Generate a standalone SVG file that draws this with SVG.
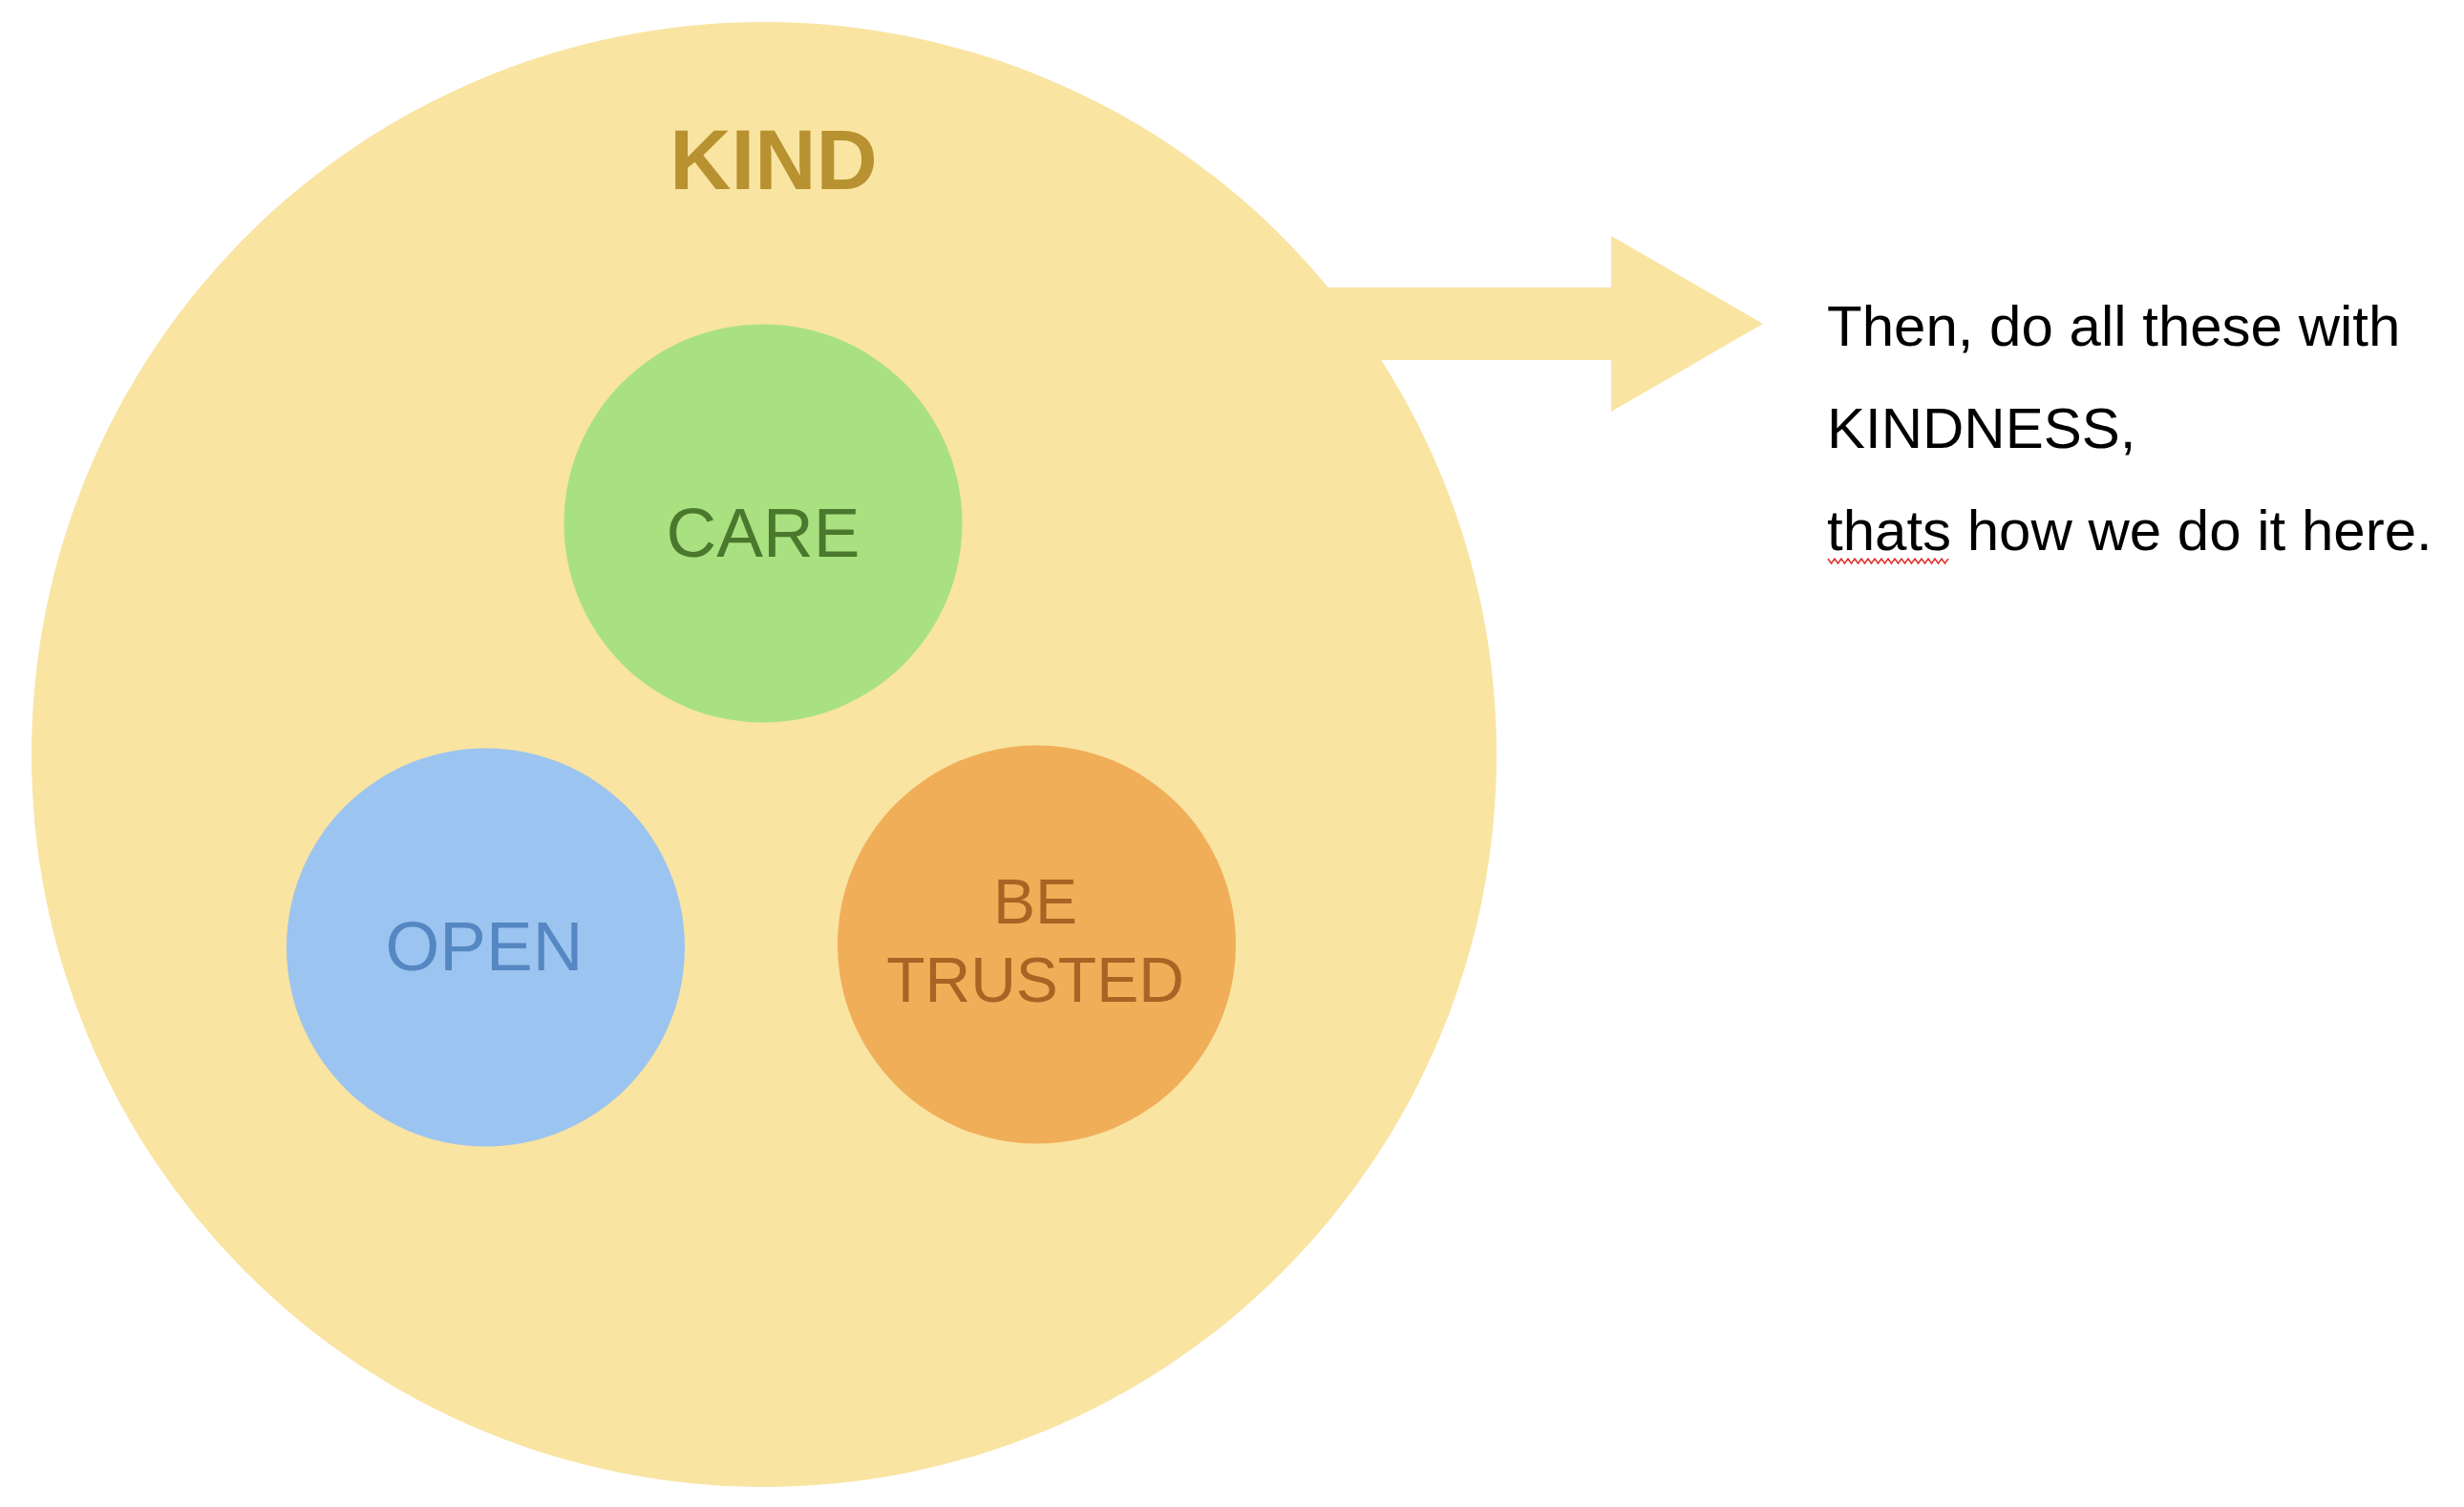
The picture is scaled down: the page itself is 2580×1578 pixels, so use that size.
<svg xmlns="http://www.w3.org/2000/svg" width="2580" height="1578" viewBox="0 0 2580 1578">
<style>
  .lbl { font-family: "Liberation Sans", Arial, sans-serif; text-anchor: middle; }
  .note { font-family: "Liberation Sans", Arial, sans-serif; font-size: 60px; fill: #000000; }
</style>
<rect x="0" y="0" width="2580" height="1578" fill="#ffffff"/>
<g id="kind">
  <circle cx="800" cy="790" r="767" fill="#F9E4A2"/>
  <text class="lbl" x="810" y="198" font-size="89" font-weight="bold" fill="#B89130">KIND</text>
</g>
<g id="connectors">
  <polygon points="1300,301 1687,301 1687,247 1846,339 1687,431 1687,377 1300,377" fill="#F9E4A2"/>
</g>
<g id="care">
  <circle cx="799" cy="548" r="208.5" fill="#A9E180"/>
  <text class="lbl" x="799" y="583" font-size="73" fill="#4A782C">CARE</text>
</g>
<g id="open">
  <circle cx="508.5" cy="992" r="208.5" fill="#9CC4F0"/>
  <text class="lbl" x="507" y="1016" font-size="73" fill="#5587C2">OPEN</text>
</g>
<g id="be-trusted">
  <circle cx="1085.5" cy="989" r="208.5" fill="#F0AE58"/>
  <text class="lbl" font-size="66" fill="#A86424"><tspan x="1084" y="967">BE</tspan><tspan x="1084" y="1049">TRUSTED</tspan></text>
</g>
<g id="note">
  <text class="note" x="1913" y="362">Then, do all these with</text>
  <text class="note" x="1913" y="469">KINDNESS,</text>
  <text class="note" x="1913" y="576">thats how we do it here.</text>
  <polyline fill="none" stroke="#E0302A" stroke-width="1.5" points="1914,585 1917.5,590 1921,585 1924.5,590 1928,585 1931.5,590 1935,585 1938.5,590 1942,585 1945.5,590 1949,585 1952.5,590 1956,585 1959.5,590 1963,585 1966.5,590 1970,585 1973.5,590 1977,585 1980.5,590 1984,585 1987.5,590 1991,585 1994.5,590 1998,585 2001.5,590 2005,585 2008.5,590 2012,585 2015.5,590 2019,585 2022.5,590 2026,585 2029.5,590 2033,585 2036.5,590 2040,585"/>
</g>
</svg>
